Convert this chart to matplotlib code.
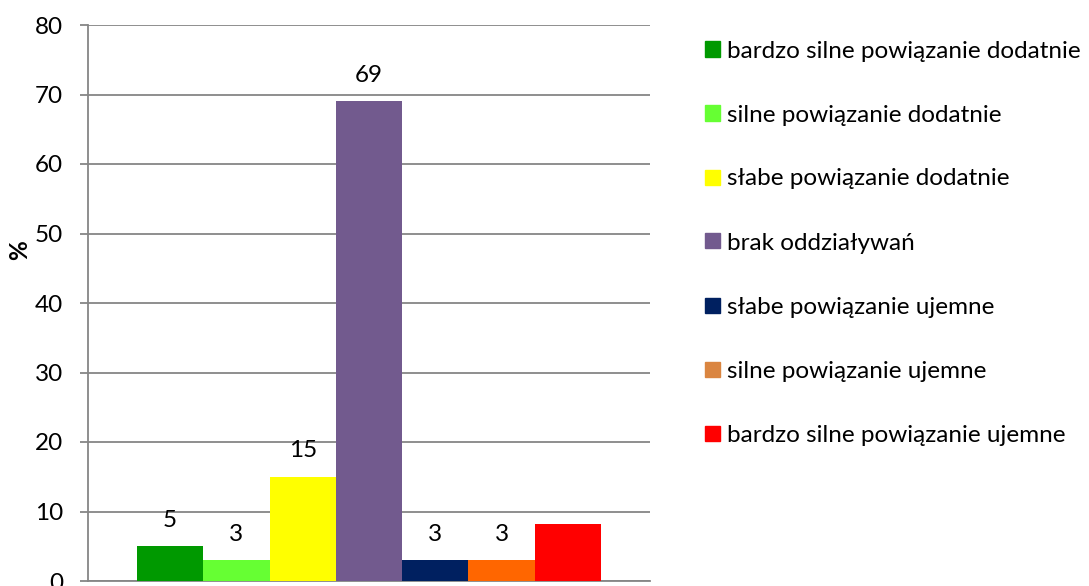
import matplotlib
matplotlib.use("Agg")
import matplotlib.pyplot as plt
from matplotlib.patches import Rectangle

plt.rcParams['font.family'] = ['Lato', 'DejaVu Sans']

# Share of associations by type (%)
categories = [
    "bardzo silne powiązanie dodatnie",
    "silne powiązanie dodatnie",
    "słabe powiązanie dodatnie",
    "brak oddziaływań",
    "słabe powiązanie ujemne",
    "silne powiązanie ujemne",
    "bardzo silne powiązanie ujemne",
]
values = [5, 3, 15, 69, 3, 3, 8.2]
value_labels = ["5", "3", "15", "69", "3", "3", ""]
bar_colors = ["#009900", "#66FF33", "#FFFF00", "#725A8E", "#002060", "#FF6600", "#FF0000"]
legend_colors = ["#009900", "#66FF33", "#FFFF00", "#725A8E", "#002060", "#DA8540", "#FF0000"]
y_ticks = [0, 10, 20, 30, 40, 50, 60, 70, 80]

W, H = 1089, 586
fig = plt.figure(figsize=(W / 100, H / 100), dpi=100)
ax = fig.add_axes([88 / W, 1 - 581 / H, (650 - 88) / W, (581 - 25) / H])

FS = 17.5
grid_color = "#868686"
xs = list(range(len(values)))
ax.bar(xs, values, width=1.0, color=bar_colors, zorder=3)

for x, v, lab in zip(xs, values, value_labels):
    if lab:
        ax.annotate(lab, (x, v), xytext=(0, 18.7), textcoords="offset points",
                    ha="center", va="center", fontsize=FS, color="black")

margin = 0.74
ax.set_xlim(-0.5 - margin, len(values) - 0.5 + margin)
ax.set_ylim(0, 80)
ax.set_yticks(y_ticks)
ax.set_yticklabels([str(t) for t in y_ticks], fontsize=FS)
ax.set_xticks([])
ax.tick_params(axis="y", length=6, width=1.3, color=grid_color, pad=12)
ax.yaxis.grid(True, color=grid_color, linewidth=1.3, zorder=0)
ax.set_axisbelow(True)
for side in ("top", "right"):
    ax.spines[side].set_visible(False)
for side in ("left", "bottom"):
    ax.spines[side].set_color(grid_color)
    ax.spines[side].set_linewidth(1.3)

fig.text(20 / W, 1 - 250 / H, "%", rotation=90, fontsize=FS, fontweight="bold",
         ha="center", va="center")

# Legend drawn as a column of colour swatches with labels
for i, (name, col) in enumerate(zip(categories, legend_colors)):
    yc = 49 + 64 * i
    fig.add_artist(Rectangle((705 / W, 1 - (yc + 7.5) / H), 15 / W, 15 / H,
                             transform=fig.transFigure, color=col))
    fig.text(727 / W, 1 - yc / H, name, fontsize=FS, ha="left", va="center_baseline")

fig.savefig("out.png", dpi=100)
